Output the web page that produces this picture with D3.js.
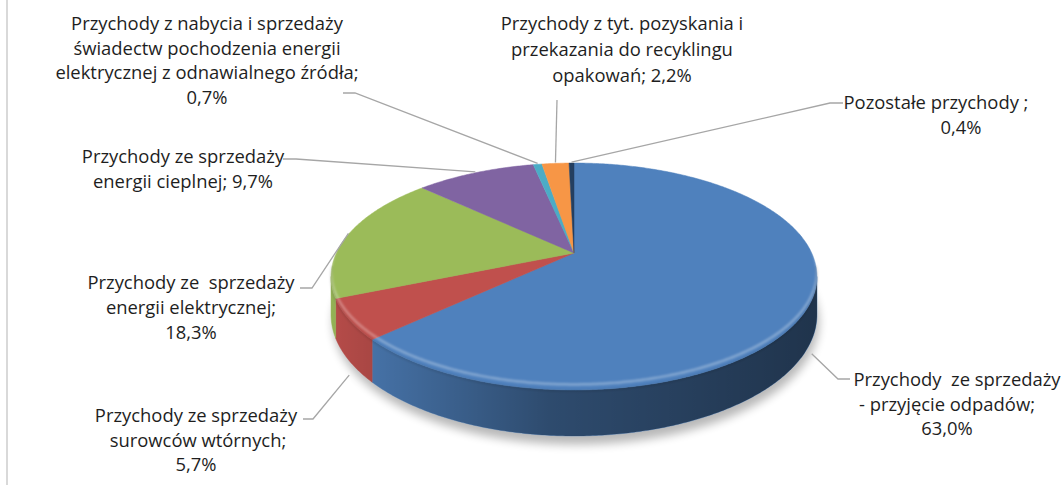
<!DOCTYPE html>
<meta charset="utf-8">
<style>
  body { margin: 0; background: #fff; }
  svg { display: block; }
  .lbl text {
    font-family: "Open Sans", sans-serif;
    font-size: 18.4px;
    fill: #1e1e1e;
    white-space: pre;
  }
  .leader {
    fill: none;
    stroke: #a6a6a6;
    stroke-width: 1.3px;
  }
</style>
<svg width="1064" height="485"></svg>
<script src="https://d3js.org/d3.v7.min.js"></script>
<script>

  // revenue structure, %
  var categories = [
    "Przychody  ze sprzedaży|- przyjęcie odpadów;|{v}",
    "Przychody ze sprzedaży|surowców wtórnych;|{v}",
    "Przychody ze  sprzedaży|energii elektrycznej;|{v}",
    "Przychody ze sprzedaży|energii cieplnej; {v}",
    "Przychody z nabycia i sprzedaży|świadectw pochodzenia energii|elektrycznej z odnawialnego źródła;|{v}",
    "Przychody z tyt. pozyskania i|przekazania do recyklingu|opakowań; {v}",
    "Pozostałe przychody ;|{v}"
  ];
  var values = [63.0, 5.7, 18.3, 9.7, 0.7, 2.2, 0.4];
  var colors = ["#4f81bd", "#c0504d", "#9bbb59", "#8064a2", "#4bacc6", "#f79646", "#243f60"];

  // label boxes (centre x, baselines, per line shift, elbow of leader, stub length)
  var labelLayout = [
    { x: 947, ys: [386, 411, 435], dx: [10, 0, 0], elbow: [850, 379], stub: -12 },
    { x: 196, ys: [422, 447, 471], dx: [0, 2, 0], elbow: [303, 419], stub: 10 },
    { x: 191, ys: [289, 314, 339], dx: [0, 0, 0], elbow: [300, 288], stub: 12 },
    { x: 183, ys: [163, 188], dx: [0, 0], elbow: [283, 159], stub: 13 },
    { x: 207, ys: [30, 55, 79, 104], dx: [0, 0, 0, 0], elbow: [343, 93], stub: 12 },
    { x: 622, ys: [30, 56, 82], dx: [0, 0, 0], elbow: [557, 100], stub: 0 },
    { x: 936, ys: [109, 134], dx: [0, 25], elbow: [843, 103], stub: -13 }
  ];

  var svg = d3.select("svg");
  var fmt = function (v) { return d3.format(".1f")(v).replace(".", ",") + "%"; };

  // perspective pie: apex, half axes, perspective factor, thickness
  var cx = 574, cy = 253, A = 237.7, B = 108.6, K = 0.207, D = 36.5;

  function proj(t, z) {
    var u = Math.sin(t), v = Math.cos(t), w = 1 + K * v;
    return [cx + A * u / w, cy - B * v / w + D * z / w];
  }

  function rim(a0, a1, z) {
    var n = Math.max(2, Math.ceil((a1 - a0) / 0.01));
    return d3.range(n + 1).map(function (i) { return proj(a0 + (a1 - a0) * i / n, z); });
  }

  var line = d3.line();
  var arcs = d3.pie().sort(null).startAngle(0).endAngle(2 * Math.PI)(values);

  var s0 = Math.acos(-K), s1 = 2 * Math.PI - Math.acos(-K);

  var defs = svg.append("defs");
  defs.append("filter").attr("id", "shadow").attr("x", "-20%").attr("y", "-20%")
    .attr("width", "140%").attr("height", "140%")
    .append("feGaussianBlur").attr("stdDeviation", 5);
  defs.append("filter").attr("id", "soft")
    .append("feGaussianBlur").attr("stdDeviation", 1.2);

  var sideGrad = defs.append("linearGradient").attr("id", "sideShade")
    .attr("gradientUnits", "userSpaceOnUse")
    .attr("x1", cx - A * 1.03).attr("x2", cx + A * 1.03).attr("y1", 0).attr("y2", 0);
  sideGrad.append("stop").attr("offset", "0%").attr("stop-color", "#000").attr("stop-opacity", 0.05);
  sideGrad.append("stop").attr("offset", "45%").attr("stop-color", "#000").attr("stop-opacity", 0.42);
  sideGrad.append("stop").attr("offset", "100%").attr("stop-color", "#000").attr("stop-opacity", 0.6);

  // left frame line
  svg.append("line").attr("x1", 7).attr("x2", 7).attr("y1", 0).attr("y2", 485)
    .attr("stroke", "#d9d9d9").attr("stroke-width", 2);

  // soft shadow under the pie
  svg.append("path")
    .attr("d", line(rim(0, 2 * Math.PI, 1.12)) + "Z")
    .attr("transform", "translate(2,3)")
    .attr("fill", "#000").attr("opacity", 0.28)
    .attr("filter", "url(#shadow)");

  // visible sides
  var sides = svg.append("g");
  arcs.forEach(function (d, i) {
    var a0 = Math.max(d.startAngle, s0), a1 = Math.min(d.endAngle, s1);
    if (a1 <= a0) return;
    var pts = rim(a0, a1, 0).concat(rim(a0, a1, 1).reverse());
    sides.append("path").attr("d", line(pts) + "Z").attr("fill", colors[i])
      .attr("stroke", colors[i]).attr("stroke-width", 0.5);
    sides.append("path").attr("d", line(pts) + "Z").attr("fill", "url(#sideShade)");
  });

  // top faces
  var tops = svg.append("g");
  arcs.forEach(function (d, i) {
    var pts = [[cx, cy]].concat(rim(d.startAngle, d.endAngle, 0));
    tops.append("path").attr("d", line(pts) + "Z").attr("fill", colors[i])
      .attr("stroke", colors[i]).attr("stroke-width", 0.5).attr("stroke-linejoin", "round");
  });

  // bevel highlight along the front rim
  svg.append("path")
    .attr("d", line(rim(s0 - 0.2, s1 + 0.2, -0.12)))
    .attr("fill", "none").attr("stroke", "#fff").attr("stroke-opacity", 0.3)
    .attr("stroke-width", 2.5).attr("filter", "url(#soft)");
  svg.append("path")
    .attr("d", line(rim(s0 - 0.1, s1 + 0.1, 0.02)))
    .attr("fill", "none").attr("stroke", "#000").attr("stroke-opacity", 0.12)
    .attr("stroke-width", 2).attr("filter", "url(#soft)");

  // leaders
  var leaders = svg.append("g");
  arcs.forEach(function (d, i) {
    var mid = (d.startAngle + d.endAngle) / 2;
    var front = mid > s0 && mid < s1;
    var anchor = front ? proj(mid, 1.35) : proj(mid, -0.03);
    var L = labelLayout[i];
    var pts = [L.elbow, [L.elbow[0] + L.stub, L.elbow[1]], anchor];
    leaders.append("path").attr("class", "leader").attr("d", line(pts));
  });

  // labels
  var labels = svg.append("g").attr("class", "lbl");
  categories.forEach(function (c, i) {
    var L = labelLayout[i];
    c.replace("{v}", fmt(values[i])).split("|").forEach(function (t, j) {
      labels.append("text")
        .attr("x", L.x + L.dx[j]).attr("y", L.ys[j])
        .attr("text-anchor", "middle")
        .text(t);
    });
  });

</script>
